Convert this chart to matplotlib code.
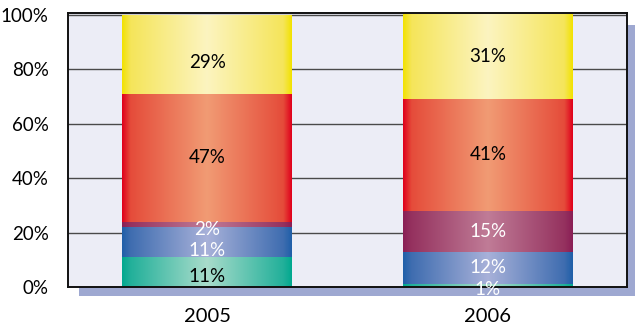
import numpy as np
import matplotlib
matplotlib.use("Agg")
import matplotlib.pyplot as plt
from matplotlib.colors import to_rgb
from matplotlib.patches import Rectangle

plt.rcParams['font.family'] = ['Lato', 'DejaVu Sans']

# ---- data ----
years = ["2005", "2006"]
segment_names = ["teal", "blue", "purple", "red", "yellow"]
values_2005 = [11, 11, 2, 47, 29]
values_2006 = [1, 12, 15, 41, 31]
y_ticks = [0, 20, 40, 60, 80, 100]
y_tick_labels = ["0%", "20%", "40%", "60%", "80%", "100%"]

# horizontal gradient stops of each segment: centre, inner edge, outer rim
center_colors = ["#a9dccb", "#a8b1d9", "#c07c97", "#f19b74", "#fcf4c0"]
inner_colors = ["#22b09a", "#3f6db0", "#95325f", "#e54c3a", "#f5e55a"]
rim_colors = ["#00a88f", "#1f5fa8", "#8a1e55", "#e0001c", "#f2e200"]
label_colors = {
    "2005": ["black", "white", "white", "black", "black"],
    "2006": ["white", "white", "white", "black", "black"],
}
# vertical nudges (data units) for labels in thin segments
label_nudge = {
    "2005": [-1.5, -3.0, -2.0, 0, -3],
    "2006": [-1.5, 0, 0, 0, 0],
}

W, H = 635, 328
fig = plt.figure(figsize=(W / 100, H / 100), dpi=100)

# plot frame in pixel units
left, right, top, bottom = 68, 627, 13, 287.3
ax = fig.add_axes([left / W, (H - bottom) / H, (right - left) / W, (bottom - top) / H])
ax.set_zorder(2)

# drop shadow behind the plot frame
shadow = Rectangle((79 / W, (H - 296) / H), (640 - 79) / W, (296 - 25) / H,
                   transform=fig.transFigure, facecolor="#9ea8d1",
                   edgecolor="none", zorder=0)
fig.patches.append(shadow)

ax.set_facecolor("#ecedf6")

x = np.arange(len(years))
width = 0.605
series = {"2005": values_2005, "2006": values_2006}

prof = np.abs(np.linspace(-1, 1, 400))
stops = [0.0, 0.9, 1.0]


def gradient_row(k):
    cols = [np.array(to_rgb(c)) for c in (center_colors[k], inner_colors[k], rim_colors[k])]
    return np.stack([np.interp(prof, stops, [c[ch] for c in cols]) for ch in range(3)], axis=1)


for i, yr in enumerate(years):
    vals = series[yr]
    bottoms = np.concatenate([[0], np.cumsum(vals)[:-1]])
    bars = ax.bar([x[i]] * len(vals), vals, width=width, bottom=bottoms,
                  color="none", edgecolor="none", zorder=2)
    for k, (patch, v, b) in enumerate(zip(bars, vals, bottoms)):
        img = gradient_row(k)[None, :, :]
        x0 = patch.get_x()
        ax.imshow(img, extent=(x0, x0 + patch.get_width(), b, b + v),
                  aspect="auto", interpolation="bilinear", zorder=2)
        ax.text(x[i], b + v / 2 + label_nudge[yr][k], f"{v}%",
                ha="center", va="center", fontsize=13.5,
                color=label_colors[yr][k], zorder=4)

ax.set_xlim(-0.495, 1.495)
ax.set_ylim(-0.1, 100.6)

ax.set_yticks(y_ticks)
ax.set_yticklabels(y_tick_labels, fontsize=13.5)
ax.set_xticks(x)
ax.set_xticklabels(years, fontsize=14.5)
ax.tick_params(axis="y", length=0, pad=14)
ax.tick_params(axis="x", length=0, pad=15)
ax.grid(axis="y", color="#4a4a4a", linewidth=1.0, zorder=1)
ax.set_axisbelow(True)
for s in ax.spines.values():
    s.set_color("#111111")
    s.set_linewidth(1.4)

fig.savefig("out.png", dpi=100)
